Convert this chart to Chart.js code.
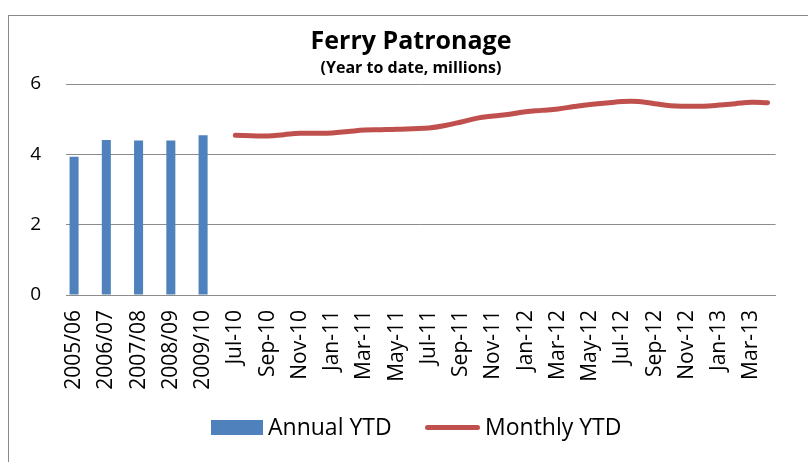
<!DOCTYPE html>
<html>
<head>
<meta charset="utf-8">
<script src="https://cdn.jsdelivr.net/npm/chart.js@4.4.1/dist/chart.umd.min.js"></script>
<style>
  html, body { margin: 0; padding: 0; background: #fff; overflow: hidden; }
  body { width: 808px; height: 462px; position: relative; font-family: "Open Sans", sans-serif; }
  #frame { position: absolute; left: 8px; top: 15px; width: 805px; height: 600px; border: 1px solid #8a8a8a; }
  #chart { position: absolute; left: 0; top: 0; }
  .title { position: absolute; left: 8px; width: 806px; text-align: center; font-weight: bold; color: #000; white-space: nowrap; }
  #t1 { top: 22px; font-size: 25px; line-height: 34px; }
  #t2 { top: 57px; font-size: 16px; line-height: 20px; }
  .leg { position: absolute; font-size: 23px; line-height: 28px; color: #000; white-space: nowrap; }
</style>
</head>
<body>
<div id="frame"></div>
<canvas id="chart" width="808" height="462"></canvas>
<div class="title" id="t1">Ferry Patronage</div>
<div class="title" id="t2">(Year to date, millions)</div>
<div style="position:absolute;left:211px;top:420px;width:52px;height:15px;background:#4F81BD"></div>
<div class="leg" style="left:268px;top:412px">Annual YTD</div>
<div style="position:absolute;left:425px;top:425px;width:55px;height:5px;border-radius:3px;background:#C0504D"></div>
<div class="leg" style="left:485px;top:412px">Monthly YTD</div>
<script>
const annualLabels = ["2005/06", "2006/07", "2007/08", "2008/09", "2009/10"];
const annualValues = [3.93, 4.41, 4.39, 4.39, 4.54];

const monthLabels = [
  "Jul-10", "Aug-10", "Sep-10", "Oct-10", "Nov-10", "Dec-10",
  "Jan-11", "Feb-11", "Mar-11", "Apr-11", "May-11", "Jun-11",
  "Jul-11", "Aug-11", "Sep-11", "Oct-11", "Nov-11", "Dec-11",
  "Jan-12", "Feb-12", "Mar-12", "Apr-12", "May-12", "Jun-12",
  "Jul-12", "Aug-12", "Sep-12", "Oct-12", "Nov-12", "Dec-12",
  "Jan-13", "Feb-13", "Mar-13", "Apr-13"
];
const monthlyValues = [
  4.54, 4.53, 4.52, 4.56, 4.60, 4.60,
  4.61, 4.65, 4.69, 4.70, 4.71, 4.73,
  4.75, 4.82, 4.92, 5.03, 5.09, 5.14,
  5.21, 5.25, 5.29, 5.36, 5.42, 5.46,
  5.50, 5.50, 5.44, 5.38, 5.37, 5.37,
  5.40, 5.44, 5.48, 5.47
];

const yTicks = [0, 2, 4, 6];

// each annual category is followed by an empty slot, then the monthly series
const labels = [];
const barData = [];
const lineData = [];
annualLabels.forEach((l, i) => {
  labels.push(l, "");
  barData.push(annualValues[i], null);
  lineData.push(null, null);
});
monthLabels.forEach((l, i) => {
  labels.push(l);
  barData.push(null);
  lineData.push(monthlyValues[i]);
});

const gridColor = "#8c8c8c";

new Chart(document.getElementById("chart"), {
  data: {
    labels,
    datasets: [
      {
        type: "line",
        label: "Monthly YTD",
        data: lineData,
        borderColor: "#C0504D",
        borderWidth: 5,
        borderCapStyle: "round",
        borderJoinStyle: "round",
        pointRadius: 0,
        tension: 0.4,
        spanGaps: false,
        order: 0
      },
      {
        type: "bar",
        label: "Annual YTD",
        data: barData,
        backgroundColor: "#4F81BD",
        categoryPercentage: 1,
        barPercentage: 0.56,
        order: 1
      }
    ]
  },
  options: {
    responsive: false,
    animation: false,
    layout: { padding: { left: 0, right: 20, top: 84, bottom: 67 } },
    plugins: { legend: { display: false }, title: { display: false }, tooltip: { enabled: false } },
    scales: {
      x: {
        type: "category",
        offset: true,
        grid: { display: false, drawTicks: false },
        border: { display: true, color: gridColor, width: 1 },
        ticks: {
          autoSkip: false,
          maxRotation: 90,
          minRotation: 90,
          padding: 15,
          color: "#000",
          font: { family: "Open Sans", size: 21 },
          callback: function (v, i) { return i % 2 === 0 ? this.getLabelForValue(v) : ""; }
        },
        afterFit: (s) => { s.height = 100; }
      },
      y: {
        min: 0,
        max: 6,
        afterBuildTicks: (s) => { s.ticks = yTicks.map(v => ({ value: v })); },
        grid: { color: gridColor, lineWidth: 1, drawTicks: false },
        border: { display: false },
        ticks: { padding: 25, color: "#000", font: { family: "Open Sans", size: 19 } },
        afterFit: (s) => { s.width = 66; }
      }
    }
  }
});
</script>
</body>
</html>
